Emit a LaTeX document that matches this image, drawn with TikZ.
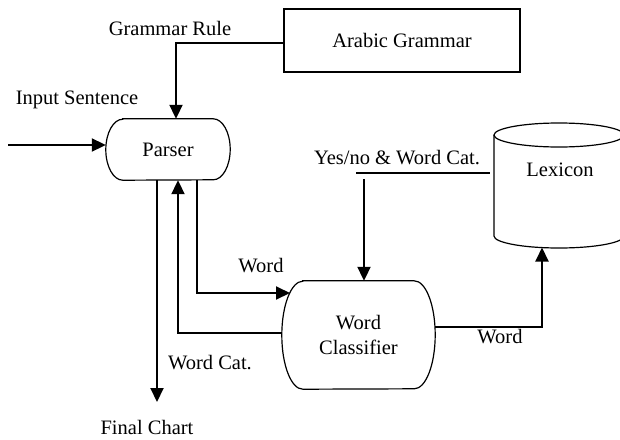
\documentclass[tikz,border=0pt]{standalone}
\usepackage{fontspec}
\setmainfont{Liberation Serif}
\usetikzlibrary{arrows.meta}

\tikzset{
	flow/.style={->, line width=2pt},
	wire/.style={line width=2pt},
	outline/.style={line width=1.2pt},
	lbl/.style={inner sep=0pt, font=\fontsize{20.5}{25}\selectfont, align=center}
}

\begin{document}
\begin{tikzpicture}[x=1pt, y=-1pt, >={Triangle[length=14pt,width=13pt]}]
	\useasboundingbox (0,0) rectangle (620,439);

	% blocks
	\node[lbl, draw, outline, minimum width=236pt, minimum height=63pt] (grammar) at (402,40.5) {Arabic Grammar};
	\node[lbl, minimum width=124pt, minimum height=61pt] (parser) at (168,149.5) {Parser};
	\node[lbl, minimum width=153pt, minimum height=108pt] (classifier) at (358.5,335) {Word\\Classifier};
	\node[lbl] (lexicon) at (560,170) {Lexicon};

	% rounded sides of parser and classifier
	\foreach \n/\r/\h in {parser/17/30.5, classifier/21/54}
	{
		\draw[outline] ([xshift=\r pt]\n.north west) -- ([xshift=-\r pt]\n.north east)
			arc[start angle=90, end angle=-90, x radius=\r pt, y radius=\h pt]
			-- ([xshift=\r pt]\n.south west)
			arc[start angle=270, end angle=90, x radius=\r pt, y radius=\h pt] -- cycle;
	}

	% lexicon drum
	\draw[outline] (559,135) ellipse[x radius=65pt, y radius=12pt];
	\draw[outline] (494,135) -- (494,236) arc[start angle=180, end angle=360, x radius=65pt, y radius=12pt] -- (624,135);

	\coordinate (in) at (8,145);
	\coordinate (out) at (157,402);
	\coordinate (wordin) at (290,293);
	\coordinate (yes) at (356,173);
	\coordinate (lexleft) at (490,173);
	\coordinate (down) at (364,179);
	\coordinate (lexbottom) at (542,247.5);

	% connectors
	\draw[flow] ([yshift=-2.5pt]grammar.west) -| ([xshift=8pt]parser.north);
	\draw[flow] (in) -- (in -| parser.west);
	\draw[flow] (parser.south -| out) -- (out);
	\draw[flow] ([xshift=29pt]parser.south) |- (wordin);
	\draw[flow] ([yshift=2pt]classifier.west) -| ([xshift=10pt]parser.south);
	\draw[wire] (yes) -- (lexleft);
	\draw[flow] (down) -- (down |- classifier.north);
	\draw[flow] ([yshift=8pt]classifier.east) -| (lexbottom);

	% labels
	\node[lbl] (rule) at (170,28) {Grammar Rule};
	\node[lbl] (input) at (77,100) {Input Sentence};
	\node[lbl] (yesno) at (397,158) {Yes/no \& Word Cat.};
	\node[lbl] (word1) at (261,266) {Word};
	\node[lbl] (wordcat) at (210,363) {Word Cat.};
	\node[lbl] (word2) at (500,337) {Word};
	\node[lbl] (final) at (147,427) {Final Chart};
\end{tikzpicture}
\end{document}
